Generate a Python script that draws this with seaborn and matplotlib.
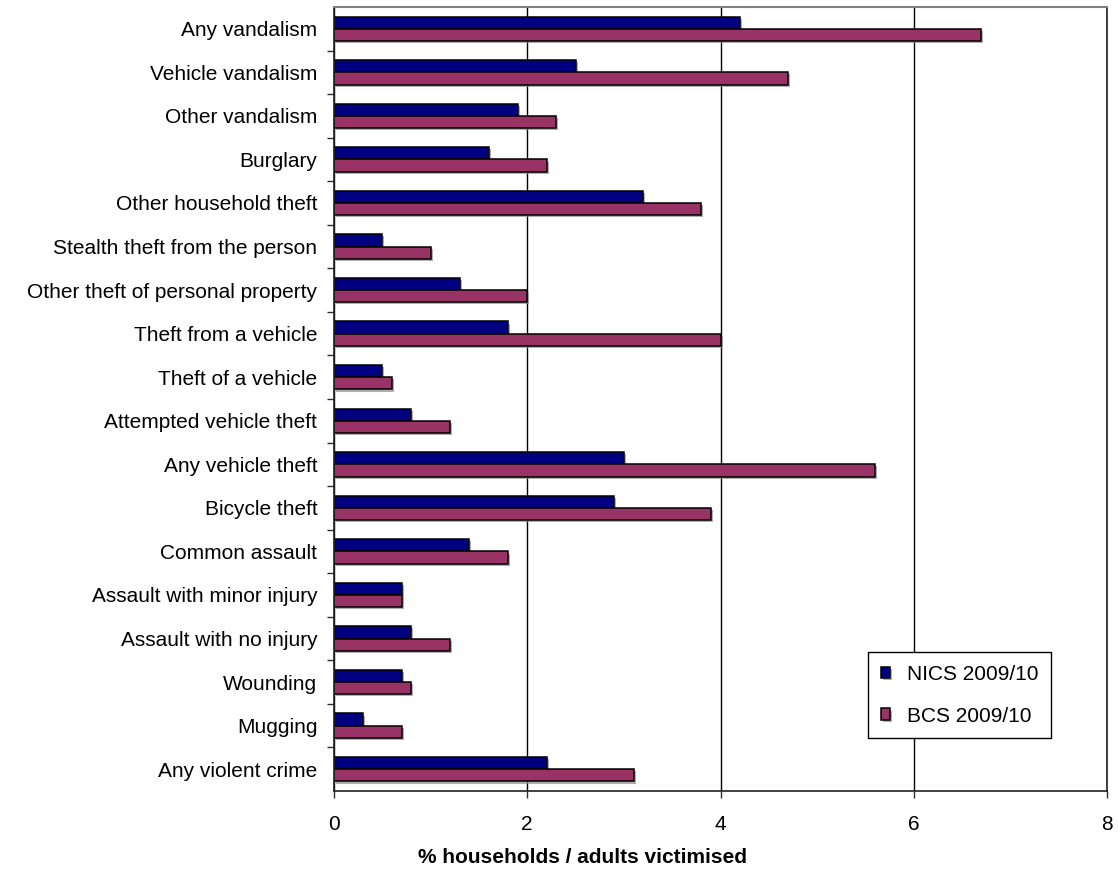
import numpy as np
import pandas as pd
import seaborn as sns
import matplotlib.pyplot as plt
from matplotlib import patheffects as pe
from matplotlib.ticker import FixedLocator

# Victimisation rates by offence type (%)
categories = [
    "Any vandalism",
    "Vehicle vandalism",
    "Other vandalism",
    "Burglary",
    "Other household theft",
    "Stealth theft from the person",
    "Other theft of personal property",
    "Theft from a vehicle",
    "Theft of a vehicle",
    "Attempted vehicle theft",
    "Any vehicle theft",
    "Bicycle theft",
    "Common assault",
    "Assault with minor injury",
    "Assault with no injury",
    "Wounding",
    "Mugging",
    "Any violent crime",
]
nics = [4.2, 2.5, 1.9, 1.6, 3.2, 0.5, 1.3, 1.8, 0.5, 0.8, 3.0, 2.9, 1.4, 0.7, 0.8, 0.7, 0.3, 2.2]
bcs = [6.7, 4.7, 2.3, 2.2, 3.8, 1.0, 2.0, 4.0, 0.6, 1.2, 5.6, 3.9, 1.8, 0.7, 1.2, 0.8, 0.7, 3.1]
series_names = ["NICS 2009/10", "BCS 2009/10"]
x_ticks = [0, 2, 4, 6, 8]
x_label = "% households / adults victimised"

sns.set_theme(style="white")
plt.rcParams["font.family"] = ["Liberation Sans", "DejaVu Sans"]
plt.rcParams["text.color"] = "black"
plt.rcParams["xtick.color"] = "black"
plt.rcParams["ytick.color"] = "black"
plt.rcParams["axes.labelcolor"] = "black"

df = pd.DataFrame({
    "crime": categories * 2,
    "pct": nics + bcs,
    "survey": [series_names[0]] * len(categories) + [series_names[1]] * len(categories),
})

W, H = 1118, 873
fig = plt.figure(figsize=(W / 100, H / 100), dpi=100)
ax = fig.add_axes([334 / W, 1 - 791 / H, 773 / W, 784 / H])

sns.barplot(
    data=df, y="crime", x="pct", hue="survey",
    order=categories, hue_order=series_names,
    palette=["#000080", "#993366"], saturation=1,
    orient="h", width=0.56, edgecolor="black", linewidth=1.1,
    ax=ax,
)

# soft drop shadow under each bar
for bar in ax.patches:
    bar.set_path_effects([
        pe.SimplePatchShadow(offset=(1.5, -1.5), shadow_rgbFace=(0.55, 0.55, 0.55), alpha=0.7),
        pe.Normal(),
    ])

ax.set_xlim(0, 8)
ax.set_ylim(len(categories) - 0.5, -0.5)
ax.set_xticks(x_ticks)
ax.set_xticklabels([str(t) for t in x_ticks], fontsize=15, color="black")
ax.set_yticks(range(len(categories)))
ax.set_yticklabels(categories, fontsize=15, color="black")

ax.set_axisbelow(True)
ax.xaxis.grid(True, color="black", linewidth=1.0)
ax.yaxis.grid(False)

# category dividers on the left axis
ax.yaxis.set_minor_locator(FixedLocator(np.arange(0.5, len(categories) - 1, 1.0)))
ax.tick_params(axis="y", which="major", left=True, length=0, pad=12)
ax.tick_params(axis="y", which="minor", left=True, length=5, width=1, color="#303030")
ax.tick_params(axis="x", which="major", bottom=True, length=5, width=1, color="#303030",
               direction="out", pad=12)

for side in ("left", "right", "bottom"):
    ax.spines[side].set_visible(True)
    ax.spines[side].set_color("#202020")
    ax.spines[side].set_linewidth(1.2)
ax.spines["top"].set_color("#808080")
ax.spines["top"].set_linewidth(1.5)

ax.set_ylabel("")
ax.set_xlabel(x_label, fontsize=15, fontweight="bold", color="black")
ax.xaxis.set_label_coords(0.321, -0.073)

leg = ax.legend(
    loc="lower left", bbox_to_anchor=(0.691, 0.0676),
    frameon=True, fancybox=False, edgecolor="black", framealpha=1,
    fontsize=15, handlelength=0.45, handleheight=0.45, handletextpad=0.8,
    labelspacing=1.1, borderpad=0.6, borderaxespad=0,
)
leg.get_frame().set_linewidth(1.0)
for t in leg.get_texts():
    t.set_color("black")

fig.savefig("out.png", dpi=100)
